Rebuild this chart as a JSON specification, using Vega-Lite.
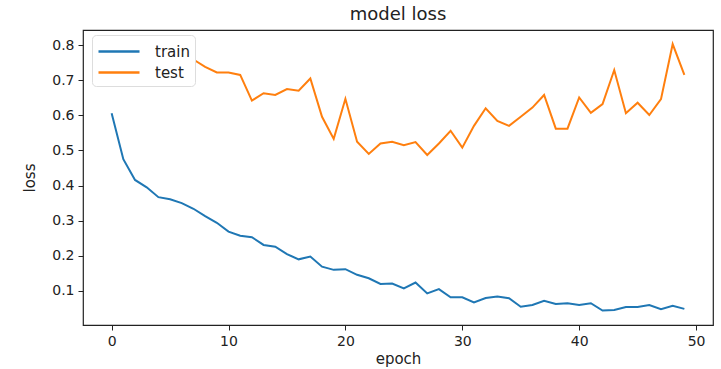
{
  "$schema": "https://vega.github.io/schema/vega-lite/v6.json",
  "autosize": "none",
  "width": 630,
  "height": 295,
  "padding": {"left": 83, "top": 30, "right": 8, "bottom": 44},
  "background": "white",
  "config": {
    "font": "DejaVu Sans",
    "view": {"stroke": "#222", "strokeWidth": 1.2},
    "axis": {"grid": false, "domain": false, "tickColor": "#222", "tickSize": 5, "labelColor": "#222", "labelFontSize": 14, "titleColor": "#222", "titleFontSize": 15, "titleFontWeight": "normal", "labelPadding": 4}
  },
  "title": {"text": "model loss", "fontSize": 18, "fontWeight": "normal", "color": "#222", "offset": 6},
  "data": {
    "values": [
      {"epoch":0,"series":"train","loss":0.606},{"epoch":1,"series":"train","loss":0.475},{"epoch":2,"series":"train","loss":0.416},{"epoch":3,"series":"train","loss":0.395},{"epoch":4,"series":"train","loss":0.367},{"epoch":5,"series":"train","loss":0.361},{"epoch":6,"series":"train","loss":0.350},{"epoch":7,"series":"train","loss":0.334},{"epoch":8,"series":"train","loss":0.313},{"epoch":9,"series":"train","loss":0.294},
      {"epoch":10,"series":"train","loss":0.269},{"epoch":11,"series":"train","loss":0.257},{"epoch":12,"series":"train","loss":0.253},{"epoch":13,"series":"train","loss":0.231},{"epoch":14,"series":"train","loss":0.226},{"epoch":15,"series":"train","loss":0.205},{"epoch":16,"series":"train","loss":0.190},{"epoch":17,"series":"train","loss":0.198},{"epoch":18,"series":"train","loss":0.169},{"epoch":19,"series":"train","loss":0.160},
      {"epoch":20,"series":"train","loss":0.162},{"epoch":21,"series":"train","loss":0.146},{"epoch":22,"series":"train","loss":0.136},{"epoch":23,"series":"train","loss":0.120},{"epoch":24,"series":"train","loss":0.121},{"epoch":25,"series":"train","loss":0.107},{"epoch":26,"series":"train","loss":0.124},{"epoch":27,"series":"train","loss":0.093},{"epoch":28,"series":"train","loss":0.105},{"epoch":29,"series":"train","loss":0.082},
      {"epoch":30,"series":"train","loss":0.082},{"epoch":31,"series":"train","loss":0.067},{"epoch":32,"series":"train","loss":0.080},{"epoch":33,"series":"train","loss":0.084},{"epoch":34,"series":"train","loss":0.079},{"epoch":35,"series":"train","loss":0.055},{"epoch":36,"series":"train","loss":0.060},{"epoch":37,"series":"train","loss":0.072},{"epoch":38,"series":"train","loss":0.063},{"epoch":39,"series":"train","loss":0.065},
      {"epoch":40,"series":"train","loss":0.060},{"epoch":41,"series":"train","loss":0.065},{"epoch":42,"series":"train","loss":0.044},{"epoch":43,"series":"train","loss":0.046},{"epoch":44,"series":"train","loss":0.054},{"epoch":45,"series":"train","loss":0.054},{"epoch":46,"series":"train","loss":0.060},{"epoch":47,"series":"train","loss":0.048},{"epoch":48,"series":"train","loss":0.058},{"epoch":49,"series":"train","loss":0.049},
      {"epoch":0,"series":"test","loss":0.698},{"epoch":1,"series":"test","loss":0.695},{"epoch":2,"series":"test","loss":0.691},{"epoch":3,"series":"test","loss":0.718},{"epoch":4,"series":"test","loss":0.743},{"epoch":5,"series":"test","loss":0.759},{"epoch":6,"series":"test","loss":0.746},{"epoch":7,"series":"test","loss":0.759},{"epoch":8,"series":"test","loss":0.738},{"epoch":9,"series":"test","loss":0.722},
      {"epoch":10,"series":"test","loss":0.722},{"epoch":11,"series":"test","loss":0.715},{"epoch":12,"series":"test","loss":0.642},{"epoch":13,"series":"test","loss":0.663},{"epoch":14,"series":"test","loss":0.658},{"epoch":15,"series":"test","loss":0.675},{"epoch":16,"series":"test","loss":0.670},{"epoch":17,"series":"test","loss":0.705},{"epoch":18,"series":"test","loss":0.596},{"epoch":19,"series":"test","loss":0.533},
      {"epoch":20,"series":"test","loss":0.647},{"epoch":21,"series":"test","loss":0.525},{"epoch":22,"series":"test","loss":0.490},{"epoch":23,"series":"test","loss":0.520},{"epoch":24,"series":"test","loss":0.525},{"epoch":25,"series":"test","loss":0.515},{"epoch":26,"series":"test","loss":0.524},{"epoch":27,"series":"test","loss":0.487},{"epoch":28,"series":"test","loss":0.520},{"epoch":29,"series":"test","loss":0.556},
      {"epoch":30,"series":"test","loss":0.508},{"epoch":31,"series":"test","loss":0.570},{"epoch":32,"series":"test","loss":0.620},{"epoch":33,"series":"test","loss":0.584},{"epoch":34,"series":"test","loss":0.570},{"epoch":35,"series":"test","loss":0.596},{"epoch":36,"series":"test","loss":0.622},{"epoch":37,"series":"test","loss":0.658},{"epoch":38,"series":"test","loss":0.562},{"epoch":39,"series":"test","loss":0.562},
      {"epoch":40,"series":"test","loss":0.651},{"epoch":41,"series":"test","loss":0.607},{"epoch":42,"series":"test","loss":0.632},{"epoch":43,"series":"test","loss":0.729},{"epoch":44,"series":"test","loss":0.606},{"epoch":45,"series":"test","loss":0.636},{"epoch":46,"series":"test","loss":0.601},{"epoch":47,"series":"test","loss":0.646},{"epoch":48,"series":"test","loss":0.803},{"epoch":49,"series":"test","loss":0.715}
    ]
  },
  "mark": {"type": "line", "strokeWidth": 2, "clip": true},
  "encoding": {
    "x": {"field": "epoch", "type": "quantitative", "title": "epoch",
      "scale": {"domain": [-2.45, 51.45], "nice": false, "zero": false},
      "axis": {"values": [0, 10, 20, 30, 40, 50], "format": "d", "titlePadding": 3}},
    "y": {"field": "loss", "type": "quantitative", "title": "loss",
      "scale": {"domain": [0.003, 0.843], "nice": false, "zero": false},
      "axis": {"values": [0.1, 0.2, 0.3, 0.4, 0.5, 0.6, 0.7, 0.8], "format": ".1f", "titlePadding": 14}},
    "color": {"field": "series", "type": "nominal", "sort": ["train", "test"],
      "scale": {"domain": ["train", "test"], "range": ["#1f77b4", "#ff7f0e"]},
      "legend": {"title": null, "orient": "none", "legendX": 9, "legendY": 5, "symbolType": "M-1,0H3.1", "symbolSize": 400, "symbolStrokeWidth": 2.5, "labelOffset": 35, "labelFontSize": 15, "labelColor": "#222", "fillColor": "white", "strokeColor": "#ddd", "cornerRadius": 4, "padding": 5, "rowPadding": 1}
    }
  }
}
